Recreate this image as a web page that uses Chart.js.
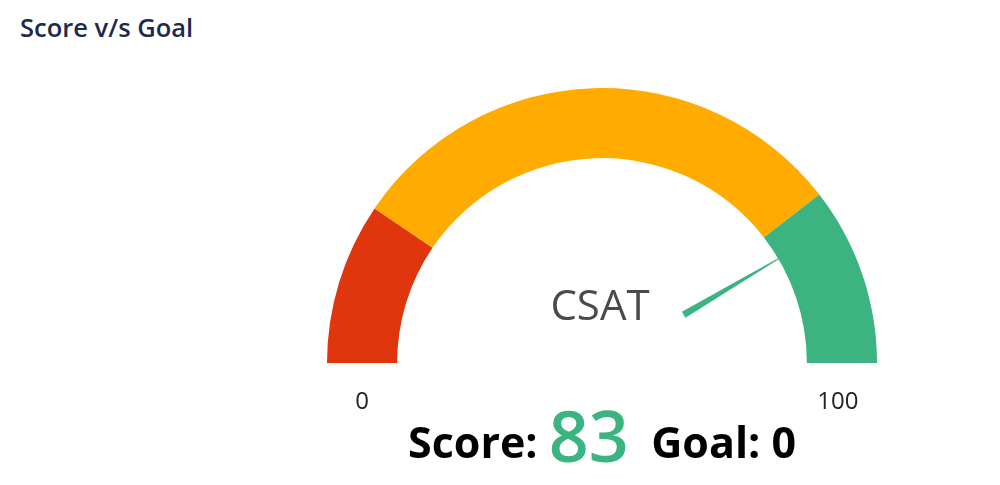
<!DOCTYPE html>
<html>
<head>
<meta charset="utf-8">
<script src="https://cdn.jsdelivr.net/npm/chart.js@4"></script>
<style>
  html, body { margin: 0; padding: 0; background: #fff; }
  body { width: 1000px; height: 485px; position: relative; overflow: hidden; font-family: "Segoe UI", "Open Sans", sans-serif; }
  #title { position: absolute; left: 20px; top: 10px; font-size: 25.5px; font-weight: 600; color: #1b2a4e; }
  #wrap { position: absolute; left: 0; top: 0; width: 1000px; height: 485px; }
</style>
</head>
<body>
<div id="title">Score v/s Goal</div>
<div id="wrap"><canvas id="gauge"></canvas></div>
<script>
// ================= DATA =================
const bandLabels = ["Low", "Medium", "High"];
const bandSizes = [19, 60, 21];
const bandColors = ["#e0360e", "#ffab00", "#3bb482"];
const scaleLabels = ["0", "100"];
const gaugeName = "CSAT";
const scoreValue = [83];
const goalValue = [0];
const gaugeMax = 100;

// ================= NEEDLE + TEXT =================
const gaugeText = {
    id: "gaugeText",
    afterDraw(chart) {
        const c = chart.ctx;
        const arc = chart.getDatasetMeta(0).data[0];
        const cx = arc.x, cy = arc.y;
        const outer = arc.outerRadius, inner = arc.innerRadius;
        const mid = (outer + inner) / 2;

        // needle
        const ang = Math.PI + Math.PI * scoreValue[0] / gaugeMax;
        const r0 = outer * 0.345, r1 = inner;
        const px = -Math.sin(ang), py = Math.cos(ang);
        c.save();
        c.fillStyle = bandColors[2];
        c.beginPath();
        c.moveTo(cx + Math.cos(ang) * r0 + px * 3.5, cy + Math.sin(ang) * r0 + py * 3.5);
        c.lineTo(cx + Math.cos(ang) * r1 + px * 0.5, cy + Math.sin(ang) * r1 + py * 0.5);
        c.lineTo(cx + Math.cos(ang) * r1 - px * 0.5, cy + Math.sin(ang) * r1 - py * 0.5);
        c.lineTo(cx + Math.cos(ang) * r0 - px * 3.5, cy + Math.sin(ang) * r0 - py * 3.5);
        c.closePath();
        c.fill();

        // name
        c.fillStyle = "#4a4a4a";
        c.font = "42px 'Segoe UI', 'Open Sans', sans-serif";
        c.textAlign = "center";
        c.textBaseline = "alphabetic";
        c.fillText(gaugeName, cx - 2, cy - 43);

        // min / max
        c.fillStyle = "#222";
        c.font = "24px 'Segoe UI', 'Open Sans', sans-serif";
        c.fillText(scaleLabels[0], cx - mid, cy + 46);
        c.fillText(scaleLabels[1], cx + mid - 4, cy + 46);

        // score line
        const boldFont = "bold 43px 'Segoe UI', 'Open Sans', sans-serif";
        const bigFont = "600 70px 'Segoe UI', 'Open Sans', sans-serif";
        const p1 = "Score: ", p2 = String(scoreValue[0]), p3 = "  Goal: " + goalValue[0];
        c.font = boldFont;
        const w1 = c.measureText(p1).width, w3 = c.measureText(p3).width;
        c.font = bigFont;
        const w2 = c.measureText(p2).width;
        let x = cx - (w1 + w2 + w3) / 2;
        const base = cy + 95;
        c.textAlign = "left";
        c.font = boldFont; c.fillStyle = "#000";
        c.fillText(p1, x, base); x += w1;
        c.font = bigFont; c.fillStyle = bandColors[2];
        c.fillText(p2, x, base + 4); x += w2;
        c.font = boldFont; c.fillStyle = "#000";
        c.fillText(p3, x, base);
        c.restore();
    }
};

// ================= CHART =================
const gauge = new Chart(document.getElementById("gauge"), {
    type: "doughnut",
    data: {
        labels: bandLabels,
        datasets: [{
            data: bandSizes,
            backgroundColor: bandColors,
            borderWidth: 0
        }]
    },
    options: {
        responsive: true,
        maintainAspectRatio: false,
        animation: false,
        rotation: -90,
        circumference: 180,
        cutout: "74.5%",
        layout: { padding: { left: 327, right: 123, top: 88, bottom: 122 } },
        plugins: {
            legend: { display: false },
            tooltip: { enabled: false }
        }
    },
    plugins: [gaugeText]
});
</script>
</body>
</html>
